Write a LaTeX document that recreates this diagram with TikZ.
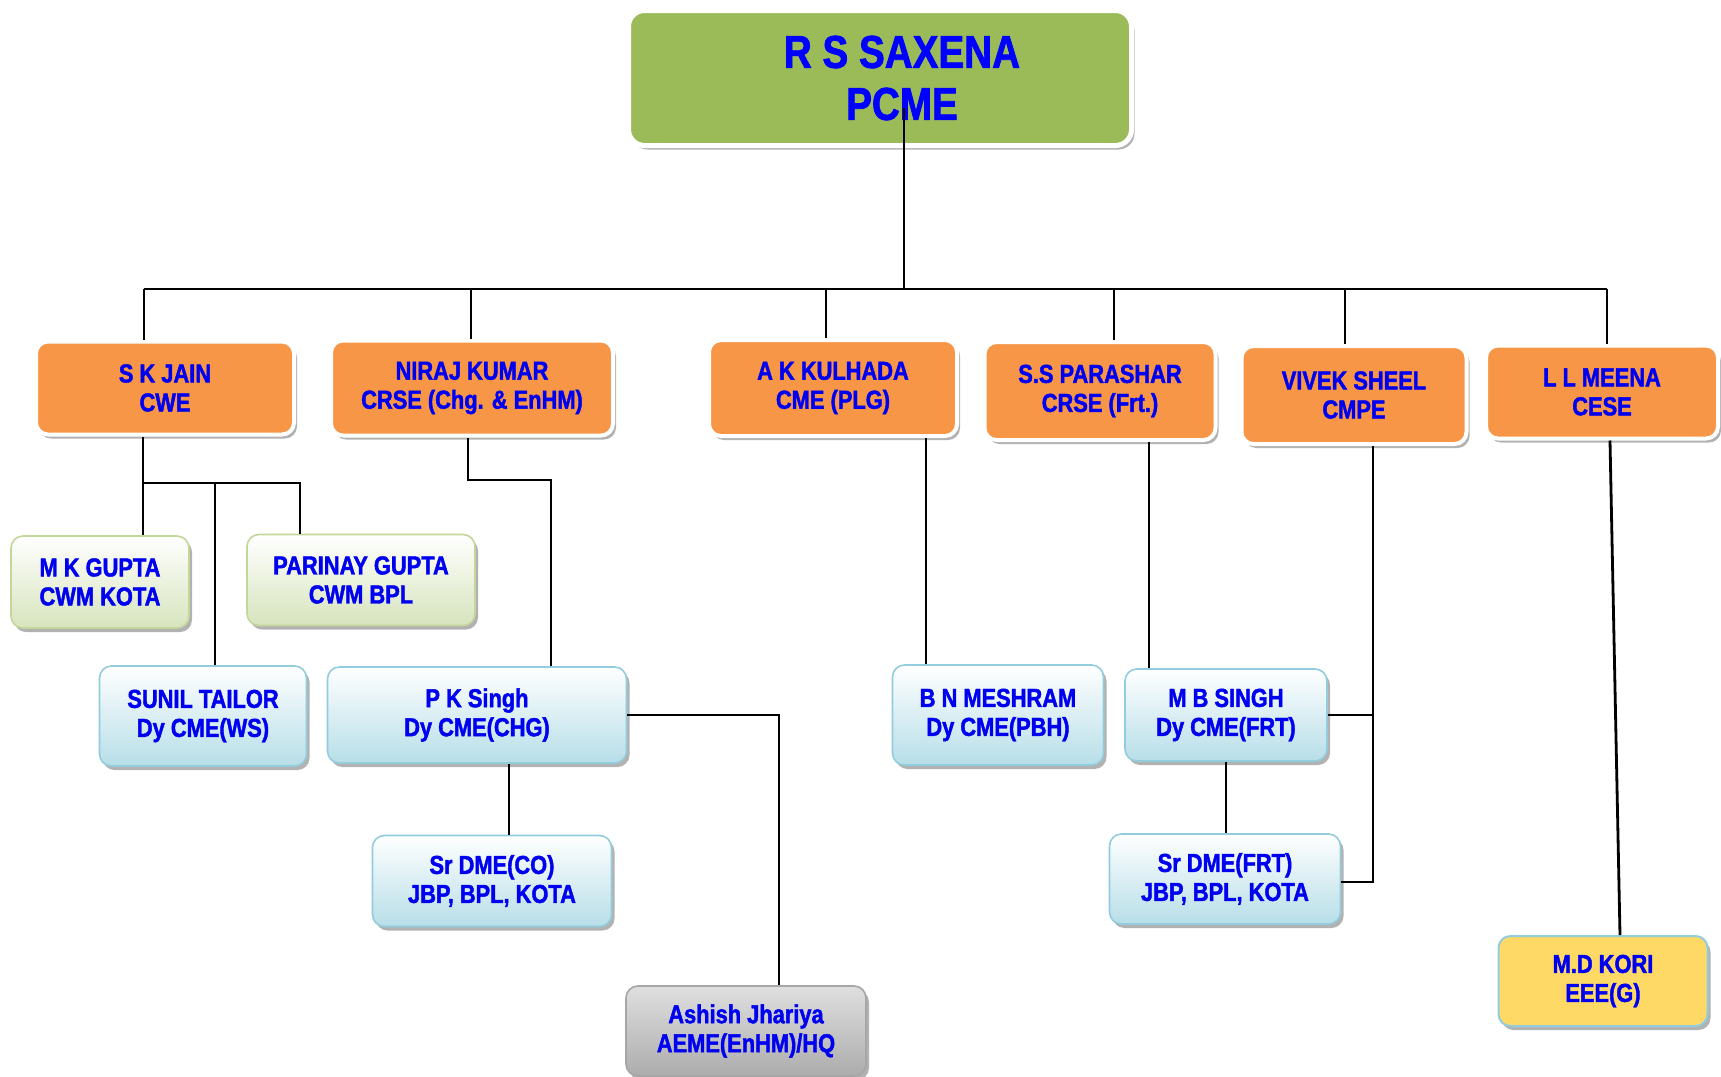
\documentclass[tikz,border=0pt]{standalone}
\usepackage{fontspec}
\setmainfont{Liberation Sans}[FakeStretch=0.84,BoldFeatures={FakeBold=1.6}]
\usetikzlibrary{shadows,positioning}
\definecolor{pcmegreen}{HTML}{9BBB59}
\definecolor{chieforange}{HTML}{F79646}
\definecolor{inkblue}{HTML}{0000F0}
\definecolor{paleblue}{HTML}{B7DEE8}
\definecolor{edgeblue}{HTML}{93CDDD}
\definecolor{palegreen}{HTML}{D7E4BD}
\definecolor{edgegreen}{HTML}{C3D69B}
\definecolor{korigold}{HTML}{FFD966}

\begin{document}
\begin{tikzpicture}[x=0.5pt,y=-0.5pt,
    every node/.style={font=\bfseries\fontsize{13}{14.5}\selectfont, text=inkblue, align=center},
    card/.style={rounded corners=6pt, drop shadow={shadow xshift=1.5pt, shadow yshift=-2pt, fill=black, opacity=0.3}},
    head/.style={card, rounded corners=8pt, fill=pcmegreen, draw=white, line width=2.5pt, font=\bfseries\fontsize{23}{26}\selectfont, text=blue},
    chief/.style={card, fill=chieforange, draw=white, line width=2pt},
    works/.style={card, top color=white, bottom color=palegreen, draw=edgegreen, line width=0.8pt},
    deputy/.style={card, top color=white, bottom color=paleblue, draw=edgeblue, line width=0.8pt},
    officer/.style={card, top color=gray!25, bottom color=gray!65, draw=gray!70, line width=0.8pt},
    electric/.style={card, fill=korigold, draw=edgeblue, line width=1pt},
    wire/.style={line width=1.4pt, black}]

    \fill[white] (0,0) rectangle (1721,1077);
    \useasboundingbox (0,0) rectangle (1721,1077);

    % head and chiefs
    \node [head, minimum width=251.5pt, minimum height=67.5pt] (pcme) at (880,78) {\hspace*{22pt}R S SAXENA\\\hspace*{22pt}PCME};
    \node [chief, minimum width=129pt, minimum height=46.5pt] (jain) at (165,388) {S K JAIN\\CWE};
    \node [chief, minimum width=141pt, minimum height=47.5pt] (niraj) at (472,388) {NIRAJ KUMAR\\CRSE (Chg. \& EnHM)};
    \node [chief, minimum width=124pt, minimum height=48pt] (kulhada) at (833,388) {A K KULHADA\\CME (PLG)};
    \node [chief, minimum width=115.5pt, minimum height=49pt] (parashar) at (1100,391) {S.S PARASHAR\\CRSE (Frt.)};
    \node [chief, minimum width=112.5pt, minimum height=49pt] (vivek) at (1354,395) {VIVEK SHEEL\\CMPE};
    \node [chief, minimum width=116pt, minimum height=46.5pt] (meena) at (1602,392) {L L MEENA\\CESE};

    % second and third rows
    \node [works, minimum width=89pt, minimum height=46pt] (mkgupta) at (100,582) {M K GUPTA\\CWM KOTA};
    \node [works, minimum width=114pt, minimum height=45.5pt] (parinay) at (361,580) {PARINAY GUPTA\\CWM BPL};
    \node [deputy, minimum width=103.5pt, minimum height=50pt] (sunil) at (203,716) {SUNIL TAILOR\\Dy CME(WS)};
    \node [deputy, minimum width=149.5pt, minimum height=48pt] (pksingh) at (477,715) {P K Singh\\Dy CME(CHG)};
    \node [deputy, minimum width=119.5pt, minimum height=45.5pt] (srdmeco) at (492,881) {Sr DME(CO)\\JBP, BPL, KOTA};
    \node [officer, minimum width=120pt, minimum height=45pt] (ashish) at (746,1031) {Ashish Jhariya\\AEME(EnHM)/HQ};
    \node [deputy, minimum width=105.5pt, minimum height=50pt] (meshram) at (998,715) {B N MESHRAM\\Dy CME(PBH)};
    \node [deputy, minimum width=101pt, minimum height=46pt] (mbsingh) at (1226,715) {M B SINGH\\Dy CME(FRT)};
    \node [deputy, minimum width=115.5pt, minimum height=45pt] (srdmefrt) at (1225,879) {Sr DME(FRT)\\JBP, BPL, KOTA};
    \node [electric, minimum width=104.5pt, minimum height=45pt] (mdkori) at (1603,981) {M.D KORI\\EEE(G)};

    % main bus
    \coordinate (hub) at (904,289);
    \coordinate (busL) at (144,289);
    \coordinate (busR) at (1607,289);
    \draw [wire] ([yshift=-15pt]pcme.center -| hub) -- (hub);
    \draw [wire] (busL) -- (busR);
    \foreach \n/\x in {jain/144, niraj/471, kulhada/826, parashar/1114, vivek/1345, meena/1607}
      { \coordinate (top\n) at (\x,289);
        \draw [wire] (top\n) -- (top\n |- \n.north); }

    % S K Jain
    \coordinate (jainL) at (143,483);
    \coordinate (jainM) at (215,483);
    \coordinate (jainR) at (300,483);
    \draw [wire] (jainL |- jain.south) -- (jainL) -- (jainL |- mkgupta.north);
    \draw [wire] (jainL) -- (jainR) -- (jainR |- parinay.north);
    \draw [wire] (jainM) -- (jainM |- sunil.north);

    % Niraj Kumar
    \coordinate (nirajA) at (468,480);
    \coordinate (nirajB) at (551,480);
    \draw [wire] (nirajA |- niraj.south) -- (nirajA) -- (nirajB) -- (nirajB |- pksingh.north);
    \coordinate (coX) at (509,800);
    \draw [wire] (coX |- pksingh.south) -- (coX |- srdmeco.north);
    \coordinate (ashX) at (779,715);
    \draw [wire] (pksingh.east) -- (ashX) -- (ashX |- ashish.north);

    % A K Kulhada, S.S Parashar
    \coordinate (kulX) at (926,600);
    \draw [wire] (kulX |- kulhada.south) -- (kulX |- meshram.north);
    \coordinate (parX) at (1149,600);
    \draw [wire] (parX |- parashar.south) -- (parX |- mbsingh.north);
    \draw [wire] (mbsingh.south) -- (mbsingh.south |- srdmefrt.north);

    % Vivek Sheel
    \coordinate (vivX) at (1373,882);
    \draw [wire] (vivX |- vivek.south) -- (vivX) -- (vivX -| srdmefrt.east);
    \draw [wire] (mbsingh.east) -- (mbsingh.east -| vivX);

    % L L Meena
    \draw [wire] ([xshift=4pt]meena.south) -- ([xshift=8.5pt]mdkori.north);
\end{tikzpicture}
\end{document}
